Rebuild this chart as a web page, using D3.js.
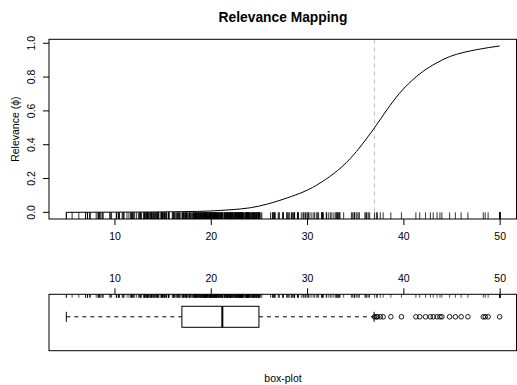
<!DOCTYPE html>
<html>
<head>
<meta charset="utf-8">
<script src="https://cdn.jsdelivr.net/npm/d3@7/dist/d3.min.js"></script>
<style>
  body { margin: 0; background: #fff; }
  svg { display: block; font-family: "Liberation Sans", Arial, Helvetica, sans-serif; }
</style>
</head>
<body>
<svg id="chart" width="517" height="385"></svg>
<script>
// target values (medv), as seen in the rug
const medv = [24.0,21.6,34.7,33.4,36.2,28.7,22.9,27.1,16.5,18.9,15.0,18.9,21.7,20.4,18.2,19.9,23.1,17.5,20.2,18.2,
  13.6,19.6,15.2,14.5,15.6,13.9,16.6,14.8,18.4,21.0,12.7,14.5,13.2,13.1,13.5,18.9,20.0,21.0,24.7,30.8,
  34.9,26.6,25.3,24.7,21.2,19.3,20.0,16.6,14.4,19.4,19.7,20.5,25.0,23.4,18.9,35.4,24.7,31.6,23.3,19.6,
  18.7,16.0,22.2,25.0,33.0,23.5,19.4,22.0,17.4,20.9,24.2,21.7,22.8,23.4,24.1,21.4,20.0,20.8,21.2,20.3,
  28.0,23.9,24.8,22.9,23.9,26.6,22.5,22.2,23.6,28.7,22.6,22.0,22.9,25.0,20.6,28.4,21.4,38.7,43.8,33.2,
  27.5,26.5,18.6,19.3,20.1,19.5,19.5,20.4,19.8,19.4,21.7,22.8,18.8,18.7,18.5,18.3,21.2,19.2,20.4,19.3,
  22.0,20.3,20.5,17.3,18.8,21.4,15.7,16.2,18.0,14.3,19.2,19.6,23.0,18.4,15.6,18.1,17.4,17.1,13.3,17.8,
  14.0,14.4,13.4,15.6,11.8,13.8,15.6,14.6,17.8,15.4,21.5,19.6,15.3,19.4,17.0,15.6,13.1,41.3,24.3,23.3,
  27.0,50.0,50.0,50.0,22.7,25.0,50.0,23.8,23.8,22.3,17.4,19.1,23.1,23.6,22.6,29.4,23.2,24.6,29.9,37.2,
  39.8,36.2,37.9,32.5,26.4,29.6,50.0,32.0,29.8,34.9,37.0,30.5,36.4,31.1,29.1,50.0,33.3,30.3,34.6,34.9,
  32.9,24.1,42.3,48.5,50.0,22.6,24.4,22.5,24.4,20.0,21.7,19.3,22.4,28.1,23.7,25.0,23.3,28.7,21.5,23.0,
  26.7,21.7,27.5,30.1,44.8,50.0,37.6,31.6,46.7,31.5,24.3,31.7,41.7,48.3,29.0,24.0,25.1,31.5,23.7,23.3,
  22.0,20.1,22.2,23.7,17.6,18.5,24.3,20.5,24.5,26.2,24.4,24.8,29.6,42.8,21.9,20.9,44.0,50.0,36.0,30.1,
  33.8,43.1,48.8,31.0,36.5,22.8,30.7,50.0,43.5,20.7,21.1,25.2,24.4,35.2,32.4,32.0,33.2,33.1,29.1,35.1,
  45.4,35.4,46.0,50.0,32.2,22.0,20.1,23.2,22.3,24.8,28.5,37.3,27.9,23.9,21.7,28.6,27.1,20.3,22.5,29.0,
  24.8,22.0,26.4,33.1,36.1,28.4,33.4,28.2,22.8,20.3,16.1,22.1,19.4,21.6,23.8,16.2,17.8,19.8,23.1,21.0,
  23.8,23.1,20.4,18.5,25.0,24.6,23.0,22.2,19.3,22.6,19.8,17.1,19.4,22.2,20.7,21.1,19.5,18.5,20.6,19.0,
  18.7,32.7,16.5,23.9,31.2,17.5,17.2,23.1,24.5,26.6,22.9,24.1,18.6,30.1,18.2,20.6,17.8,21.7,22.7,22.6,
  25.0,19.9,20.8,16.8,21.9,27.5,21.9,23.1,50.0,50.0,50.0,50.0,50.0,13.8,13.8,15.0,13.9,13.3,13.1,10.2,
  10.4,10.9,11.3,12.3,8.8,7.2,10.5,7.4,10.2,11.5,15.1,23.2,9.7,13.8,12.7,13.1,12.5,8.5,5.0,6.3,
  5.6,7.2,12.1,8.3,8.5,5.0,11.9,27.9,17.2,27.5,15.0,17.2,17.9,16.3,7.0,7.2,7.5,10.4,8.8,8.4,
  16.7,14.2,20.8,13.4,11.7,8.3,10.2,10.9,11.0,9.5,14.5,14.1,16.1,14.3,11.7,13.4,9.6,8.7,8.4,12.8,
  10.5,17.1,18.4,15.4,10.8,11.8,14.9,12.6,14.1,13.0,13.4,15.2,16.1,17.8,14.9,14.1,12.7,13.5,14.9,20.0,
  16.4,17.7,19.5,20.2,21.4,19.9,19.0,19.1,19.1,20.1,19.9,19.6,23.2,29.8,13.8,13.3,16.7,12.0,14.6,21.4,
  23.0,23.7,25.0,21.8,20.6,21.2,19.1,20.6,15.2,7.0,8.1,13.6,20.1,21.8,24.5,23.1,19.7,18.3,21.2,17.5,
  16.8,22.4,20.6,23.9,22.0,11.9];

// relevance curve
const phiX = [5, 10, 14, 17, 20, 22, 24.1, 27.5, 31, 34.5, 37, 38.3, 39.6, 40.8, 42, 43.4, 44.8, 46.2, 47.6, 50];
const phiY = [0, 0.001, 0.002, 0.004, 0.008, 0.015, 0.027, 0.077, 0.161, 0.319, 0.5, 0.607, 0.704, 0.775, 0.832, 0.882, 0.921, 0.945, 0.962, 0.984];
const threshold = 37;

// box-plot: lower whisker, Q1, median, Q3, upper whisker
const boxStats = [5.0, 17.0, 21.2, 25.0, 36.96];
const outliers = [37.0, 37.2, 37.3, 37.6, 37.9, 38.7, 39.8, 41.3, 41.7, 42.3, 42.8, 43.1, 43.5, 43.8,
  44.0, 44.8, 45.4, 46.0, 46.7, 48.3, 48.5, 48.8, 50.0];

const xTicks = [10, 20, 30, 40, 50];
const yTicks = [0, 0.2, 0.4, 0.6, 0.8, 1.0];

const svg = d3.select('#chart');
const left = 49, right = 517;
const top1 = 39.3, bot1 = 219;
const top2 = 294.3, bot2 = 350.7;

const x = d3.scaleLinear().domain([3.2, 51.8]).range([left, right]);
const y = d3.scaleLinear().domain([-0.0394, 1.0234]).range([bot1, top1]);

// title
svg.append('text')
  .attr('x', (left + right) / 2).attr('y', 22)
  .attr('text-anchor', 'middle')
  .attr('font-size', 13.8).attr('font-weight', 'bold')
  .text('Relevance Mapping');

// top plot
const g1 = svg.append('g');

// threshold line
g1.append('line')
  .attr('x1', x(threshold)).attr('x2', x(threshold))
  .attr('y1', top1).attr('y2', bot1)
  .attr('stroke', '#bebebe').attr('stroke-dasharray', '4,4');

// rug
g1.append('g').selectAll('line')
  .data(medv)
  .join('line')
  .attr('x1', d => x(d)).attr('x2', d => x(d))
  .attr('y1', bot1).attr('y2', y(0))
  .attr('stroke', '#000').attr('stroke-width', 0.8);

const line = d3.line()
  .x((d, i) => x(phiX[i]))
  .y(d => y(d))
  .curve(d3.curveMonotoneX);

g1.append('path')
  .attr('d', line(phiY))
  .attr('fill', 'none').attr('stroke', '#000').attr('stroke-width', 1);

g1.append('rect')
  .attr('x', left).attr('y', top1)
  .attr('width', right - left - 0.5).attr('height', bot1 - top1)
  .attr('fill', 'none').attr('stroke', '#000');

// x axis (bottom)
const xAxis = g1.append('g')
  .attr('transform', 'translate(0,' + bot1 + ')')
  .call(d3.axisBottom(x).tickValues(xTicks).tickSize(6).tickPadding(7.5).tickFormat(d3.format('d')));
xAxis.select('.domain').remove();
xAxis.selectAll('text').attr('font-size', 10.5).attr('font-family', null);

// y axis (left), labels rotated like R
const yAxis = g1.append('g')
  .attr('transform', 'translate(' + left + ',0)')
  .call(d3.axisLeft(y).tickValues(yTicks).tickSize(6).tickFormat(d3.format('.1f')));
yAxis.select('.domain').remove();
yAxis.selectAll('text')
  .attr('font-size', 10.5).attr('font-family', null)
  .attr('x', null).attr('dy', null)
  .attr('text-anchor', 'middle')
  .attr('transform', d => 'translate(' + (35 - left) + ',' + y(d) + ') rotate(-90)');
yAxis.selectAll('.tick').attr('transform', null);
yAxis.selectAll('.tick line').attr('y1', d => y(d)).attr('y2', d => y(d));

svg.append('text')
  .attr('transform', 'translate(19,' + (top1 + bot1) / 2 + ') rotate(-90)')
  .attr('text-anchor', 'middle')
  .attr('font-size', 10.5)
  .text('Relevance (ϕ)');

// bottom plot: box-plot
const g2 = svg.append('g');
const cy = (top2 + bot2) / 2 - 5.7;
const boxH = 21, stapleH = 10;

g2.append('g').selectAll('line')
  .data(medv)
  .join('line')
  .attr('x1', d => x(d)).attr('x2', d => x(d))
  .attr('y1', top2).attr('y2', top2 + 3.4)
  .attr('stroke', '#000').attr('stroke-width', 0.7);

// whiskers
g2.selectAll('line.whisker')
  .data([[boxStats[0], boxStats[1]], [boxStats[3], boxStats[4]]])
  .join('line')
  .attr('class', 'whisker')
  .attr('x1', d => x(d[0])).attr('x2', d => x(d[1]))
  .attr('y1', cy).attr('y2', cy)
  .attr('stroke', '#000').attr('stroke-dasharray', '4,4');

g2.selectAll('line.staple')
  .data([boxStats[0], boxStats[4]])
  .join('line')
  .attr('class', 'staple')
  .attr('x1', d => x(d)).attr('x2', d => x(d))
  .attr('y1', cy - stapleH / 2).attr('y2', cy + stapleH / 2)
  .attr('stroke', '#000');

g2.append('rect')
  .attr('x', x(boxStats[1])).attr('y', cy - boxH / 2)
  .attr('width', x(boxStats[3]) - x(boxStats[1])).attr('height', boxH)
  .attr('fill', '#fff').attr('stroke', '#000');

g2.append('line')
  .attr('x1', x(boxStats[2])).attr('x2', x(boxStats[2]))
  .attr('y1', cy - boxH / 2).attr('y2', cy + boxH / 2)
  .attr('stroke', '#000').attr('stroke-width', 2);

g2.append('g').selectAll('circle')
  .data(outliers)
  .join('circle')
  .attr('cx', d => x(d)).attr('cy', cy)
  .attr('r', 2.3)
  .attr('fill', 'none').attr('stroke', '#000').attr('stroke-width', 0.9);

g2.append('rect')
  .attr('x', left).attr('y', top2)
  .attr('width', right - left - 0.5).attr('height', bot2 - top2)
  .attr('fill', 'none').attr('stroke', '#000');

const xAxis2 = g2.append('g')
  .attr('transform', 'translate(0,' + top2 + ')')
  .call(d3.axisTop(x).tickValues(xTicks).tickSize(6).tickPadding(6).tickFormat(d3.format('d')));
xAxis2.select('.domain').remove();
xAxis2.selectAll('text').attr('font-size', 10.5).attr('font-family', null);

svg.append('text')
  .attr('x', (left + right) / 2).attr('y', 381.5)
  .attr('text-anchor', 'middle')
  .attr('font-size', 10.5)
  .text('box-plot');
</script>
</body>
</html>
